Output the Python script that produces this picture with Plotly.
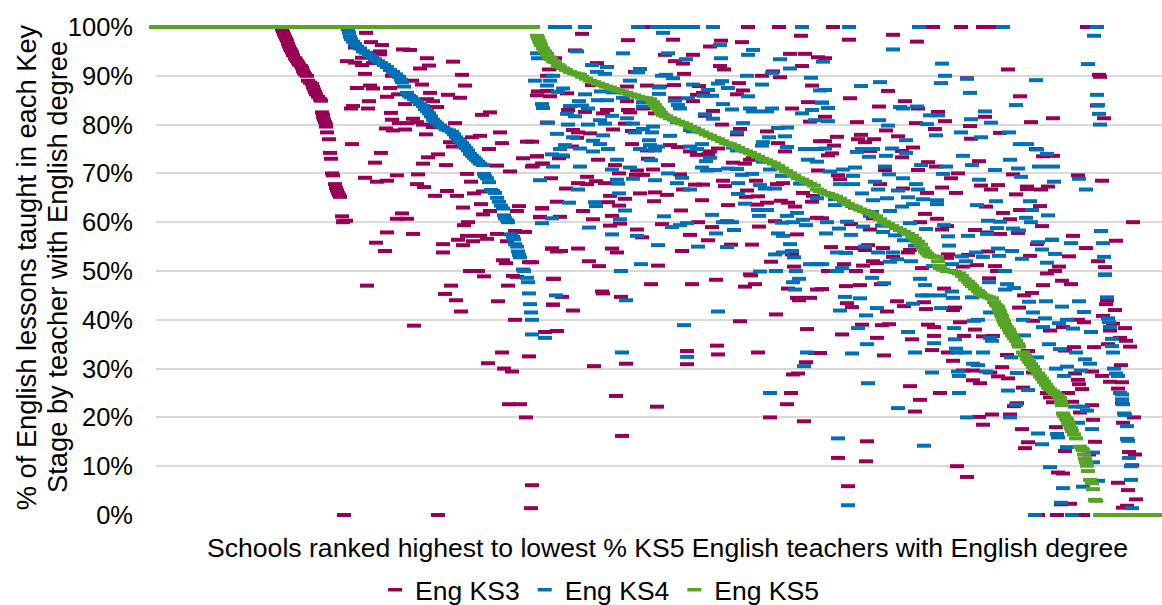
import plotly.graph_objects as go

y_ticks = [0, 10, 20, 30, 40, 50, 60, 70, 80, 90, 100]
y_tick_labels = [f"{v}%" for v in y_ticks]
series_names = ["Eng KS3", "Eng KS4", "Eng KS5"]
x_title = "Schools ranked highest to lowest % KS5 English teachers with English degree"
y_title_lines = ["% of English lessons taught in each Key", "Stage by teacher with English degree"]

ks3_curve = [(132,99.5),(133,99),(134,98.5),(135,98),(136,97.6),(137,97.2),(138,96.5),(139,96),(140,95.5),(141,95.2),(142,94.8),(143,94.2),(145,93.6),(146,93.3),(147,93),(148,92.7),(149,92.3),(151,92),(152,91.6),(153,91),(154,90.6),(155,90.3),(157,90),(158,89),(160,88.6),(162,88.3),(163,87.7),(164,87.2),(165,86.7),(166,86.2),(168,85.7),(170,85.2),(171,84.9),(172,82.5),(173,82),(173,81.5),(174,81),(175,80.5),(176,80),(176,79.6),(177,78.4),(179,77),(180,74.2),(181,73),(182,70),(183,69.6),(185,67.8),(186,67),(187,66.5),(188,66),(189,65.6),(190,65.2),(192,61.2),(193,60.2)]
ks3_scatter_a = [(216,98.8),(221,96.9),(232,96.3),(205,95.8),(230,95),(253,95.4),(260,95.3),(230,94.4),(277,93.6),(303,92.9),(197,93),(212,93.7),(205,92.7),(212,92.2),(223,92.6),(279,92.1),(270,91.5),(215,90.4),(242,90),(312,90.2),(262,89),(272,88.2),(315,88),(207,87.5),(220,88),(223,87.4),(240,87.5),(280,86.5),(298,86.1),(310,85.5),(237,85.7),(248,86.2),(277,85.2),(283,84.8),(219,84.8),(255,84.2),(203,83.8),(201,83.3),(218,83.3),(287,83.6),(241,82.4),(340,82.5),(332,82),(242,81),(263,81.2),(249,80.3),(257,80.3),(267,80.5),(305,80.3),(273,80),(283,79.5),(236,79.2),(243,78.8),(255,79),(276,78),(350,78.4),(330,77.7),(322,77.4),(202,76),(300,76.4),(352,76.2),(377,76.5),(303,75.5),(339,75),(231,74.2),(288,73.9),(278,73.3),(225,72.2),(273,72),(296,71.7),(373,73.1),(387,73.5),(382,71.4),(393,72),(347,71.6),(360,70.4),(215,69.1),(227,68.3),(237,68.5),(247,69.6),(268,69.8),(317,69.9),(321,68.3),(267,67.8),(274,67.2),(297,66.4),(285,65.4),(307,65.4),(324,65.9),(333,66.3),(313,63),(331,63.7),(369,63.3),(392,62.9),(367,62.3),(340,62.3),(333,61.6),(196,60.3),(193,60),(252,61.8),(247,60.7),(257,60.7),(318,60),(314,59.4),(390,61),(237,57.9),(263,57.6),(226,55.8),(235,54.1),(293,55.5),(293,53.8),(313,55.3),(317,57.2),(330,57.2),(337,56.6),(308,56.4),(323,56.1),(347,57.6),(357,56.1),(365,58.2),(375,58),(353,52.2),(356,51.6),(379,51.8),(402,54.6),(320,50),(328,50),(407,54)]
ks3_scatter_b = [(217,47),(301,47),(295,45.3),(306,44),(311,41.7),(264,38.8),(358,47),(348,43.8),(334,48.9),(367,48.8),(363,49),(403,48.4),(403,43.1),(365,40),(395,37.5),(407,37.7),(352,33.3),(379,32.5),(338,31.1),(354,30),(362,29.4),(359,22.7),(370,22.7),(376,20),(382,6.1),(381,1.4),(194,0),(288,0)]
ks3_scatter_c = [(432,98.6),(478,97.3),(523,97.4),(571,97.2),(592,96.9),(651,98.2),(560,96),(425,95.2),(515,94.3),(543,94.3),(640,94.5),(655,94.5),(668,93.8),(405,93.6),(525,93),(533,92.5),(447,92.6),(570,92),(574,91.3),(652,92),(623,90.9),(399,91.3),(485,90.8),(534,90.4),(397,90),(612,90),(630,89.7),(442,88.1),(477,87.8),(497,88),(524,88.1),(510,87.8),(549,87.9),(589,88.5),(662,88),(593,87),(388,86.8),(397,86.9),(417,86.4),(400,85.8),(387,86),(553,86.5),(547,86.1),(587,86.2),(525,85.4),(543,84.8),(477,84.8),(658,84.6),(457,83),(418,83),(435,82.6),(453,82.3),(478,83),(480,82.5),(493,83.3),(505,82.3),(563,82.8),(642,83.3),(555,81.8),(660,80.6),(397,80.4),(475,80.2),(572,80),(423,78.9),(428,78.4),(440,78.2),(463,79),(482,78.7),(590,79.1),(617,78.6),(587,78),(427,77.3),(382,76.5),(482,76),(520,75.8),(528,75.4),(628,76.2),(670,76.6),(422,75.5),(497,74.7),(540,74.5),(568,75.1),(635,74.5),(560,74.5),(547,73.8),(558,73.9),(387,73.5),(413,73.5),(409,73.1),(448,72.8),(498,73),(600,72.8),(603,73.2),(583,72.2),(595,72),(392,72),(383,71.6),(465,71.7),(518,71.7),(487,70.6),(503,70.8),(469,70),(668,70.6),(486,69.7),(493,69.7),(530,69.8),(437,69.3),(401,69),(446,68.4),(428,68),(437,67.8),(455,68),(573,68.5),(606,68.5),(627,67.8),(633,68),(575,67.4),(545,67.7),(553,67.7),(416,66.9),(533,66.7),(597,66.5),(460,65.4),(490,65.9),(505,66.1),(517,65.6),(475,64.8),(596,65.2),(608,65.3),(653,66),(663,65.4),(407,64.2),(458,64.1),(504,64.3),(552,64.5),(578,63.5),(607,63.6),(617,64),(631,64.4),(638,64),(645,63.2),(662,64.2),(469,63.4),(392,62.8),(433,62.3),(531,62.4),(462,61.3),(390,61.1),(410,61.1),(443,60.6),(470,59.7),(460,59.3),(512,59.6),(548,60),(577,60.2),(609,59.1),(562,59),(487,58.5),(625,60.2),(667,60.9),(540,57.4),(492,56.9),(647,57.5),(558,56.3),(402,54.6),(428,54.6),(411,54.1),(462,54.6),(467,53.8),(532,54.1),(581,55.4),(602,55.4),(642,53.4),(382,51.8),(439,52),(449,51),(508,51.1),(621,51.9),(644,50.9),(600,49.3),(598,100),(629,100),(497,100)]
ks3_scatter_d = [(404,48.4),(412,44.7),(403,43.1),(423,41.9),(452,45.8),(453,45.4),(471,44.7),(501,47.3),(542,47.3),(566,48.2),(601,49.1),(595,46.8),(605,47.3),(638,46.4),(667,46.2),(647,44.5),(660,44.5),(649,44),(626,41.1),(590,39.7),(657,38.1),(537,33.6),(567,34.7),(568,32.9),(608,33.3),(665,33.2),(656,31.3),(444,30.5),(476,31),(537,30.9),(643,28.8),(648,29),(466,24.4),(507,22.2),(641,25),(637,22.7),(620,20),(654,19.2),(472,16.2)]
ks3_scatter_e = [(683,100),(783,100),(811,100),(833,100),(840,100),(937,100),(743,98.4),(699,97.4),(767,97),(858,91.3),(949,90.2),(950,89.8),(817,89.5),(675,93.6),(738,86.9),(700,85.4),(870,85.8),(755,84.8),(729,83.7),(768,83.3),(788,82.6),(835,81.6),(675,81.6),(947,83.9),(954,81.3),(903,81.3),(881,80.5),(707,80.5),(766,80.3),(795,80.7),(820,79.7),(736,78.8),(785,79.1),(850,78.3),(687,77.5),(711,77.9),(748,77.6),(708,77),(724,77),(675,76.6),(715,76.4),(821,77.1),(684,75.7),(763,75.3),(886,75),(682,74.1),(678,73.7),(720,74.6),(752,74.6),(752,73.3),(893,73.5),(903,73.6),(778,72.3),(829,72.5),(786,71.4),(735,70.7),(768,70.7),(808,70),(863,69.8),(928,69.6),(688,69.6),(690,68.8),(801,69),(952,68.5),(730,67.8),(831,67.5),(848,67.6),(841,66.7),(877,67.3),(877,66.8),(891,66.7),(898,67.3),(792,67.1),(777,66),(806,66),(753,66.9),(866,65.7),(836,63.2),(890,63.3),(705,63),(775,61.7),(853,61.9),(870,62.5),(787,60.7),(860,60.6),(723,60.8),(983,60),(672,60.8),(701,59.6),(770,60),(797,59.2),(792,58.5),(720,58.5),(892,59.2),(825,58.4),(837,57.9),(850,57.6),(868,57.8),(923,57.2),(887,55.5),(902,56.4),(966,56.2),(936,54.7),(681,54.9),(702,54.7),(718,55.3),(733,54.7),(715,54.3),(760,54.3),(758,53.8),(743,52.9),(798,53.4),(797,52.7),(838,54),(880,53.1),(919,53),(948,52),(909,50.9),(955,50.8),(818,53.3),(827,51.2),(845,51),(723,52),(727,51.6),(713,51.1),(694,51.4),(813,50.9),(772,50.6),(706,50),(727,50),(678,50),(897,49.5),(905,50),(847,50)]
ks3_scatter_f = [(696,46.9),(710,47.1),(731,47.3),(672,46.3),(794,46.4),(839,48.5),(893,47.1),(912,48),(921,47.3),(882,45.5),(874,45),(747,43.8),(697,43.4),(774,43.6),(702,42.6),(754,42.8),(737,41.7),(805,42.5),(803,42),(776,42.2),(869,42.5),(957,44),(956,43.2),(965,42),(953,40.8),(712,39),(732,38.9),(739,39.1),(778,39),(784,38.5),(810,39.5),(825,38),(883,39.8),(900,37.8),(913,38.5),(928,40),(934,39.5),(963,39.2),(975,38.3),(960,37.8),(692,37),(727,36.3),(762,36),(784,36.7),(814,36.7),(833,36.6),(843,36.7),(970,36.3),(976,35.7),(980,34.5),(958,35),(924,34.4),(944,34.4),(915,33.7),(782,33.8),(798,33.3),(734,32.7),(670,33.2),(803,31.6),(857,32.8),(878,33.6),(852,30.3),(971,30.7),(813,29.6),(823,29.6),(840,29.2),(848,28.4),(858,28),(883,29.2),(925,29),(942,29.4),(928,27.7),(952,28.5),(960,27.3),(972,27.2),(823,27.6),(830,27),(929,26.8),(932,25.8),(968,25.9),(760,26.4),(790,25),(873,26.1),(897,25),(918,25),(900,24.1),(903,23.1),(922,23.2),(770,23.6),(867,22.9),(864,22.3),(765,21.2),(942,22.5),(972,22.9),(930,21),(842,20.6),(860,20.6),(829,20.1),(984,20),(943,19.5),(833,18.5),(973,18.9),(906,18),(872,17.6),(878,14.9),(875,13.7),(717,15.1),(915,13.1),(945,15),(939,12.4),(985,12.4),(979,12.9),(688,11.7),(716,11),(807,10),(982,10.2),(908,8.7),(913,8.5),(817,7.8),(968,6.6),(698,5.9),(978,5.1),(986,3.2),(911,2.2),(920,2.3),(977,1.9),(973,1.5),(888,0),(907,0),(933,0)]

ks4_curve = [(198,99.5),(199,98.8),(200,98),(201,97.5),(203,97),(205,96.5),(207,96),(210,95.6),(213,95),(216,94.7),(219,94.2),(222,93.9),(225,93.4),(228,93),(231,92.6),(234,92.2),(237,91.8),(240,91.2),(243,90.8),(246,90.3),(249,89.8),(251,89.2),(252,88.7),(254,87.8),(257,86.5),(259,85.9),(261,85.6),(264,85.2),(267,84.7),(270,84.2),(273,83.8),(275,83.2),(277,82.8),(279,82.3),(281,81.7),(283,81),(285,80.6),(287,80.2),(290,79.8),(293,79.4),(296,79),(299,78.8),(302,78.5),(304,78),(306,77.4),(308,77),(310,76.6),(312,76.2),(314,75.7),(316,75.2),(318,74.7),(320,74),(322,73.6),(324,73.2),(326,72.8),(328,72.4),(330,72),(333,71.7),(334,69.9),(335,69.4),(337,69),(339,68.2),(341,66.6),(343,66.4),(345,66),(347,65),(349,64.2),(351,63.4),(353,62.8),(354,61.4),(355,60.8),(357,60.4),(358,60),(361,57.5),(363,57),(364,56.5),(365,55.5),(367,55),(368,54),(369,53.3),(370,52.8),(373,50.3),(374,50),(377,48.6),(378,47.7),(379,45.4),(380,43.2),(381,41.5),(382,40),(382,37)]
ks4_scatter_c = [(405,100),(415,100),(435,100),(488,100),(507,100),(520,100),(533,100),(543,100),(563,100),(652,100),(513,98.8),(570,96.3),(603,95.3),(598,94.3),(387,94.6),(427,95),(473,94.6),(518,94.6),(388,93.6),(536,93.4),(571,93.6),(630,93.4),(442,92.2),(457,91.8),(640,91.5),(673,92.9),(490,91.4),(488,90.7),(447,90.8),(455,90.4),(512,90),(516,90.2),(523,89.5),(403,90),(597,90),(622,90.6),(661,89.6),(385,89),(400,89),(480,89),(397,88),(413,87.4),(543,88.2),(572,88.9),(568,88.4),(612,88.2),(509,87.6),(578,87.5),(408,86.7),(435,86.2),(451,86.8),(463,86.6),(509,86.3),(558,87.1),(598,85.8),(473,85.5),(538,85.4),(562,85.9),(554,85.9),(670,87),(429,84.8),(448,85),(457,85),(493,84.6),(525,84.9),(392,84.2),(393,83.4),(420,83.8),(432,83.9),(438,83.3),(493,83.7),(528,84),(530,83.3),(573,84.2),(582,83.1),(600,83.3),(603,82.7),(617,82.7),(622,83.3),(672,84.5),(652,82.3),(662,83),(417,82.2),(425,81.7),(462,81.8),(477,81.3),(450,80.9),(555,82.1),(563,81.2),(665,80.9),(398,80.4),(418,80),(438,80),(455,80.2),(483,80.2),(527,80.5),(593,80.3),(503,79.6),(493,79.1),(485,78.4),(502,78.4),(540,78.9),(543,78.6),(628,79.3),(637,79.4),(407,78.1),(453,77.8),(520,77.7),(587,78.4),(619,77.4),(635,77.6),(423,77.4),(499,76.8),(443,76.7),(415,75.8),(450,76),(500,75.8),(552,76),(613,76.4),(410,75),(430,75.1),(458,75),(490,75),(505,75.3),(508,75.5),(505,74.7),(443,74.5),(540,75.5),(547,75),(583,75.3),(587,74.7),(612,75.7),(637,75.4),(655,75),(667,75),(402,73.9),(412,73.7),(560,73.2),(556,72.5),(501,72.7),(403,71.4),(430,71.4),(462,70.8),(467,72.8),(480,71.2),(658,72.8),(667,72.4),(613,72.4),(552,71.2),(557,70.6),(565,70.7),(578,71),(587,70.9),(620,70.8),(390,68.6),(467,68.7),(468,67.9),(483,68.9),(505,68.6),(518,70),(532,69.1),(527,68),(592,69.7),(602,69.9),(632,69.5),(588,68),(610,67.6),(540,66.7),(428,66.7),(469,65.9),(615,66.9),(625,66.9),(650,67.9),(588,65.8),(595,63.8),(419,64),(445,64.1),(446,63.3),(475,62.4),(608,62.5),(617,62.5),(667,64.9),(514,61.2),(562,61.5),(609,61.3),(637,61.3),(647,61.9),(402,60.8),(392,59.8),(470,60.6),(522,59),(530,59.4),(537,59.8),(573,60),(582,60),(632,59.9),(643,60),(653,60.5),(656,59.4),(439,58.9),(584,58.4),(462,57.5),(487,57.2),(566,57.7),(628,57.7),(633,57.2),(508,55.3),(548,55),(577,54.9),(640,55.5),(642,54.1),(625,53.4),(633,53.8),(644,52.8),(491,51.4),(660,51.4),(667,51.4),(471,50),(610,49.9),(626,50),(646,50)]
ks4_scatter_d = [(406,45),(476,44),(568,41.7),(534,38.9),(472,33.3),(537,32.4),(657,33.3),(654,30.5),(620,25),(395,36.3),(649,48.4),(643,47.7),(645,46.2)]
ks4_scatter_e = [(699,100),(769,100),(853,100),(947,100),(944,98.2),(743,95.4),(792,92.5),(938,92.4),(795,90),(817,89.4),(886,89.1),(730,88.7),(791,88.5),(711,87.9),(820,86.5),(675,87.1),(947,86.1),(672,84.5),(678,83.4),(750,83.6),(753,83.3),(767,83.7),(866,84),(948,84),(835,82.7),(949,82.2),(780,81.9),(788,81.9),(821,81.1),(729,80.9),(678,80.7),(777,80.1),(738,79.8),(841,80.4),(950,80),(811,78.4),(786,77.8),(859,78.4),(756,76.8),(831,77.4),(870,76),(877,76),(675,75.1),(712,75),(723,75),(742,75.1),(707,74.4),(887,74.9),(897,74),(756,74.2),(736,73.6),(719,73.4),(813,73.6),(860,72.8),(822,71.7),(735,71.4),(771,71.7),(705,71.2),(796,71.4),(889,71.4),(903,71.4),(868,71),(693,70.8),(680,70.4),(845,70.7),(739,69.8),(703,69.5),(753,69),(793,69.9),(871,69.3),(929,68.9),(829,68.7),(725,68.3),(766,67.8),(690,67.8),(703,67.8),(904,68.3),(728,66.7),(748,66.5),(768,66.7),(936,66.7),(712,65.9),(737,64.9),(723,64.5),(758,65.1),(685,64.7),(787,64.5),(773,64.7),(846,64.3),(880,64.3),(685,63.5),(763,63.7),(752,63.2),(787,63.7),(827,63.5),(882,62.5),(722,62.1),(740,62.3),(720,61.3),(898,61.4),(876,60.9),(838,60.3),(850,60.1),(881,60),(697,60.1),(677,60),(760,59.8),(794,59.4),(732,59.3),(713,59.1),(689,58.7),(776,58.6),(847,58.8),(863,58.7),(733,58),(869,58.3),(951,58.2),(676,57.7),(701,57.4),(745,57.3),(798,57.1),(818,57.2),(837,57.6),(754,56.3),(888,55.9),(902,56.4),(921,55.7),(953,55.7),(715,55),(743,53.8),(765,55.2),(799,55.2),(848,54.6),(862,54.1),(892,54.4),(905,53.5),(826,53.8),(687,53.8),(696,53.7),(728,53.8),(812,53),(833,52.9),(849,53.1),(872,52.5),(954,52.9),(747,52.4),(761,52),(816,52),(740,51.9),(897,51.7),(783,51),(802,51.4),(692,50.6),(687,50),(855,50),(672,51.4),(955,49.3)]
ks4_scatter_f = [(722,48.6),(734,47.5),(770,48.4),(775,47.1),(955,49.2),(839,47.7),(857,47.3),(864,46.5),(855,46.2),(802,45.8),(695,44.7),(710,44.4),(772,45),(778,45),(790,45),(803,44.5),(822,44.6),(763,43.3),(879,43.7),(896,43.8),(929,43.8),(957,44.6),(912,42.7),(727,42.4),(791,42.4),(690,41.9),(716,40.9),(883,41.5),(934,41.6),(840,41.5),(828,40),(824,39.8),(873,40),(895,40.3),(917,40),(909,39.3),(958,40.3),(959,39.5),(960,38.5),(708,38.3),(893,38.5),(804,38.3),(923,38.2),(941,37.5),(758,37.5),(874,36.8),(805,36),(840,36.3),(842,35.7),(962,36.1),(784,35.2),(717,35),(899,35),(962,34.6),(806,34.1),(910,34),(765,33.3),(702,33.1),(807,33.3),(815,33.3),(833,33.3),(926,33.3),(963,33.3),(887,32.3),(861,32.3),(935,31.9),(940,31),(823,31),(828,30.7),(906,30),(917,30.4),(931,29.6),(964,30),(782,29.2),(808,29.4),(809,28.5),(836,29.4),(867,29.1),(914,28.5),(966,29),(968,28.5),(718,27),(878,25.6),(858,25.5),(809,25),(970,25),(972,24.7),(972,23.7),(973,22.7),(866,22.6),(748,21.9),(925,22.2),(933,22.2),(937,21.4),(974,20.8),(975,20.5),(817,20),(860,20),(928,18.9),(977,18.2),(942,17.6),(888,16.7),(907,16.6),(908,15.9),(977,15.6),(978,15.2),(688,15.7),(892,14.5),(774,14.2),(917,13.9),(943,12.8),(979,11.7),(900,9.8),(981,10),(943,10.8),(981,7.2),(948,7),(933,5.8),(913,5.5),(911,2.5),(698,2),(982,1.4),(885,0),(922,0)]

ks5_points = [(6,100),(16,100),(26,100),(36,100),(46,100),(56,100),(66,100),(76,100),(86,100),(96,100),(106,100),(116,100),(126,100),(136,100),(146,100),(156,100),(166,100),(176,100),(186,100),(196,100),(206,100),(216,100),(226,100),(236,100),(246,100),(256,100),(266,100),(276,100),(286,100),(296,100),(306,100),(316,100),(326,100),(336,100),(346,100),(356,100),(366,100),(376,100),(383,100),(387,98.2),(388,97.8),(389,97.2),(390,96.8),(391,96.3),(393,95.6),(395,95),(397,94.5),(399,93.8),(401,93.4),(403,93),(405,92.8),(408,92.2),(410,91.9),(413,91.5),(416,91.2),(420,90.8),(424,90.5),(428,90.3),(430,90.2),(432,89.8),(436,89.4),(440,89),(444,88.7),(448,88.4),(452,88.1),(456,87.8),(460,87.6),(464,87.3),(468,87),(472,86.8),(476,86.5),(480,86.2),(484,86),(488,85.7),(492,85.5),(496,85.4),(500,85.2),(503,84.6),(505,84),(507,83.4),(509,83),(511,82.4),(513,82),(516,81.7),(520,81.3),(524,81),(528,80.6),(532,80.3),(536,80),(540,79.5),(544,79.2),(548,78.8),(552,78.4),(556,78),(560,77.7),(564,77.3),(568,77),(572,76.6),(576,76.2),(580,76),(584,75.6),(588,75.2),(592,74.8),(596,74.5),(600,74.2),(604,73.8),(608,73.4),(612,73),(616,72.7),(620,72.3),(624,72),(628,71.5),(632,71),(636,70.5),(640,70),(644,69.5),(648,69),(652,68.7),(656,68.3),(660,67.9),(664,67.5),(667,66.7),(670,66.4),(674,66),(678,65.8),(682,65.5),(686,65.2),(690,64.8),(694,64.3),(698,63.7),(702,63.3),(706,62.9),(710,62.6),(714,62.3),(718,62),(722,61.7),(726,61.2),(730,60.6),(734,60),(738,59.6),(742,59.2),(746,58.8),(750,58.4),(754,58),(758,57.6),(762,57.2),(765,56.6),(768,56),(771,55.4),(773,54.6),(775,54),(777,53.6),(779,53.2),(781,53),(785,52.9),(787,52.9),(788,52),(789,51),(790,50.6),(793,50.3),(797,50),(801,50),(805,49.8),(809,49.5),(812,49),(815,48.3),(818,47.8),(820,47.3),(822,46.9),(825,46.4),(828,45.9),(830,45.5),(833,45),(836,44.8),(839,44.6),(842,44.4),(844,43.6),(846,43),(848,42.7),(849,42),(850,41.6),(851,41),(852,40.7),(853,40),(854,39.6),(855,39),(857,38.5),(859,38),(860,37.4),(862,36.8),(864,36.2),(866,35.7),(868,35),(869,34.5),(873,33.3),(875,32.7),(877,32),(879,31.4),(881,30.9),(883,30.3),(885,29.7),(888,29),(890,28.4),(892,27.9),(894,27.3),(896,26.7),(898,26.1),(900,25.7),(903,25.3),(905,24.9),(908,24.5),(910,24),(911,23.2),(912,22.5),(913,20.8),(914,20.3),(916,19.8),(917,19.5),(918,18.9),(919,18.4),(921,17.8),(922,17.2),(924,16.5),(926,15.7),(930,14),(932,13.6),(933,13.3),(934,12.4),(935,11.5),(936,10.8),(937,10.1),(938,9),(940,7.2),(942,6.5),(943,5.3),(945,3.1),(946,2.9),(950,0),(960,0),(970,0),(980,0),(990,0),(1000,0),(1005,0)]

ks3_points = ks3_curve + ks3_scatter_a + ks3_scatter_b + ks3_scatter_c + ks3_scatter_d + ks3_scatter_e + ks3_scatter_f
ks4_points = ks4_curve + ks4_scatter_c + ks4_scatter_d + ks4_scatter_e + ks4_scatter_f
all_points = [ks3_points, ks4_points, ks5_points]
colors = ["#990055", "#0070B8", "#57A527"]

fig = go.Figure()
for name, pts, col in zip(series_names, all_points, colors):
    fig.add_trace(go.Scatter(
        x=[p[0] for p in pts], y=[p[1] for p in pts], mode="markers", name=name,
        showlegend=False, cliponaxis=False,
        marker=dict(symbol="line-ew", size=10, color=col, line=dict(color=col, width=4)),
    ))
for name, col in zip(series_names, colors):
    fig.add_trace(go.Scatter(
        x=[None], y=[None], mode="markers", name=name,
        marker=dict(symbol="line-ew", size=10, color=col, line=dict(color=col, width=3.5)),
    ))

FONT = "Liberation Sans, Arial, sans-serif"
fig.update_layout(
    width=1162, height=605,
    margin=dict(l=156, r=0, t=27, b=90),
    paper_bgcolor="white", plot_bgcolor="white",
    font=dict(family=FONT, size=26, color="black"),
    showlegend=True,
    legend=dict(orientation="h", xref="container", yref="container", x=0.516, xanchor="center",
                y=0, yanchor="bottom", font=dict(size=26.5), itemwidth=30, tracegroupgap=0,
                bgcolor="rgba(0,0,0,0)"),
    xaxis=dict(range=[6, 1012], showgrid=False, zeroline=False, showticklabels=False,
               ticks="", showline=False),
    yaxis=dict(range=[0, 100], tickvals=y_ticks, ticktext=y_tick_labels,
               showgrid=True, gridcolor="#D9D9D9", gridwidth=1.5, zeroline=False,
               ticks="", showline=False, tickfont=dict(size=25.5), ticklabelstandoff=22),
    annotations=[
        dict(text=x_title, xref="paper", yref="paper", x=0.508, y=-0.0676, xanchor="center",
             yanchor="middle", showarrow=False, font=dict(size=26.6)),
        dict(text=y_title_lines[0], xref="paper", yref="paper", x=-0.129, y=0.508, textangle=-90,
             xanchor="center", yanchor="middle", showarrow=False, font=dict(size=27.3)),
        dict(text=y_title_lines[1], xref="paper", yref="paper", x=-0.0985, y=0.508, textangle=-90,
             xanchor="center", yanchor="middle", showarrow=False, font=dict(size=27.3)),
    ],
)
nudge_legend = """
document.body.style.margin='0';
var lg = document.querySelector('.legend');
if (lg) {
  var m = /translate\\(([-\\d.]+)[ ,]+([-\\d.]+)\\)/.exec(lg.getAttribute('transform'));
  if (m) lg.setAttribute('transform', 'translate(' + m[1] + ',' + (parseFloat(m[2]) + 9) + ')');
}
"""
fig.write_html("out.html", post_script=nudge_legend, config={"displayModeBar": False})
